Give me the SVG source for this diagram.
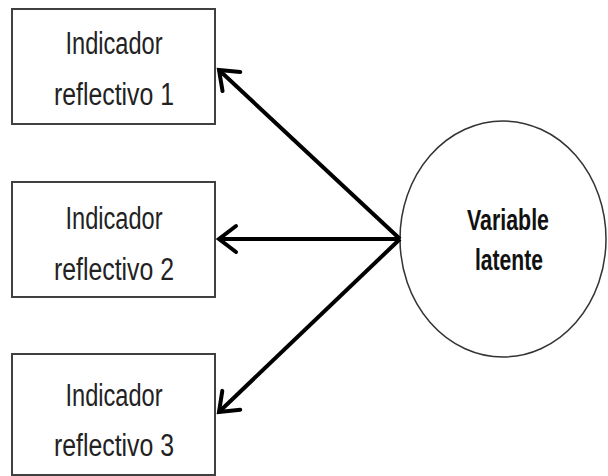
<svg xmlns="http://www.w3.org/2000/svg" width="608" height="476" viewBox="0 0 608 476">
  <style>
    .box { fill: #ffffff; stroke: #404040; stroke-width: 2; }
    .lbl { font-family: "Liberation Sans", Arial, sans-serif; font-size: 31px; fill: #222222; text-anchor: middle; }
    .lv { font-family: "Liberation Sans", Arial, sans-serif; font-size: 30px; font-weight: bold; fill: #111111; text-anchor: middle; }
    .edge { stroke: #000000; stroke-width: 4; fill: none; marker-end: url(#head); }
  </style>
  <defs>
    <marker id="head" markerUnits="userSpaceOnUse" viewBox="-24 -16 28 32" refX="0" refY="0" markerWidth="28" markerHeight="32" orient="auto">
      <path d="M -17 -13 L 0 0 L -17 13" fill="none" stroke="#000000" stroke-width="4" stroke-linecap="round" stroke-linejoin="miter"/>
    </marker>
  </defs>
  <rect width="608" height="476" fill="#ffffff"/>

  <g id="indicador1">
    <rect class="box" x="12" y="9" width="203" height="115"/>
    <text class="lbl" x="114" y="54" textLength="97" lengthAdjust="spacingAndGlyphs">Indicador</text>
    <text class="lbl" x="114" y="105" textLength="120" lengthAdjust="spacingAndGlyphs">reflectivo 1</text>
  </g>

  <g id="indicador2">
    <rect class="box" x="12" y="182" width="203" height="115"/>
    <text class="lbl" x="114" y="229" textLength="97" lengthAdjust="spacingAndGlyphs">Indicador</text>
    <text class="lbl" x="114" y="280" textLength="120" lengthAdjust="spacingAndGlyphs">reflectivo 2</text>
  </g>

  <g id="indicador3">
    <rect class="box" x="12" y="354" width="203" height="121"/>
    <text class="lbl" x="114" y="406" textLength="97" lengthAdjust="spacingAndGlyphs">Indicador</text>
    <text class="lbl" x="114" y="456" textLength="120" lengthAdjust="spacingAndGlyphs">reflectivo 3</text>
  </g>

  <g id="variable-latente">
    <ellipse cx="503" cy="239" rx="103" ry="118" fill="#ffffff" stroke="#333333" stroke-width="1.5"/>
    <text class="lv" x="508" y="230" textLength="82" lengthAdjust="spacingAndGlyphs">Variable</text>
    <text class="lv" x="509" y="270" textLength="68" lengthAdjust="spacingAndGlyphs">latente</text>
  </g>

  <g id="connectors">
    <line class="edge" x1="400" y1="239" x2="219" y2="70"/>
    <line class="edge" x1="400" y1="239" x2="219" y2="239"/>
    <line class="edge" x1="400" y1="239" x2="219" y2="412"/>
  </g>
</svg>
